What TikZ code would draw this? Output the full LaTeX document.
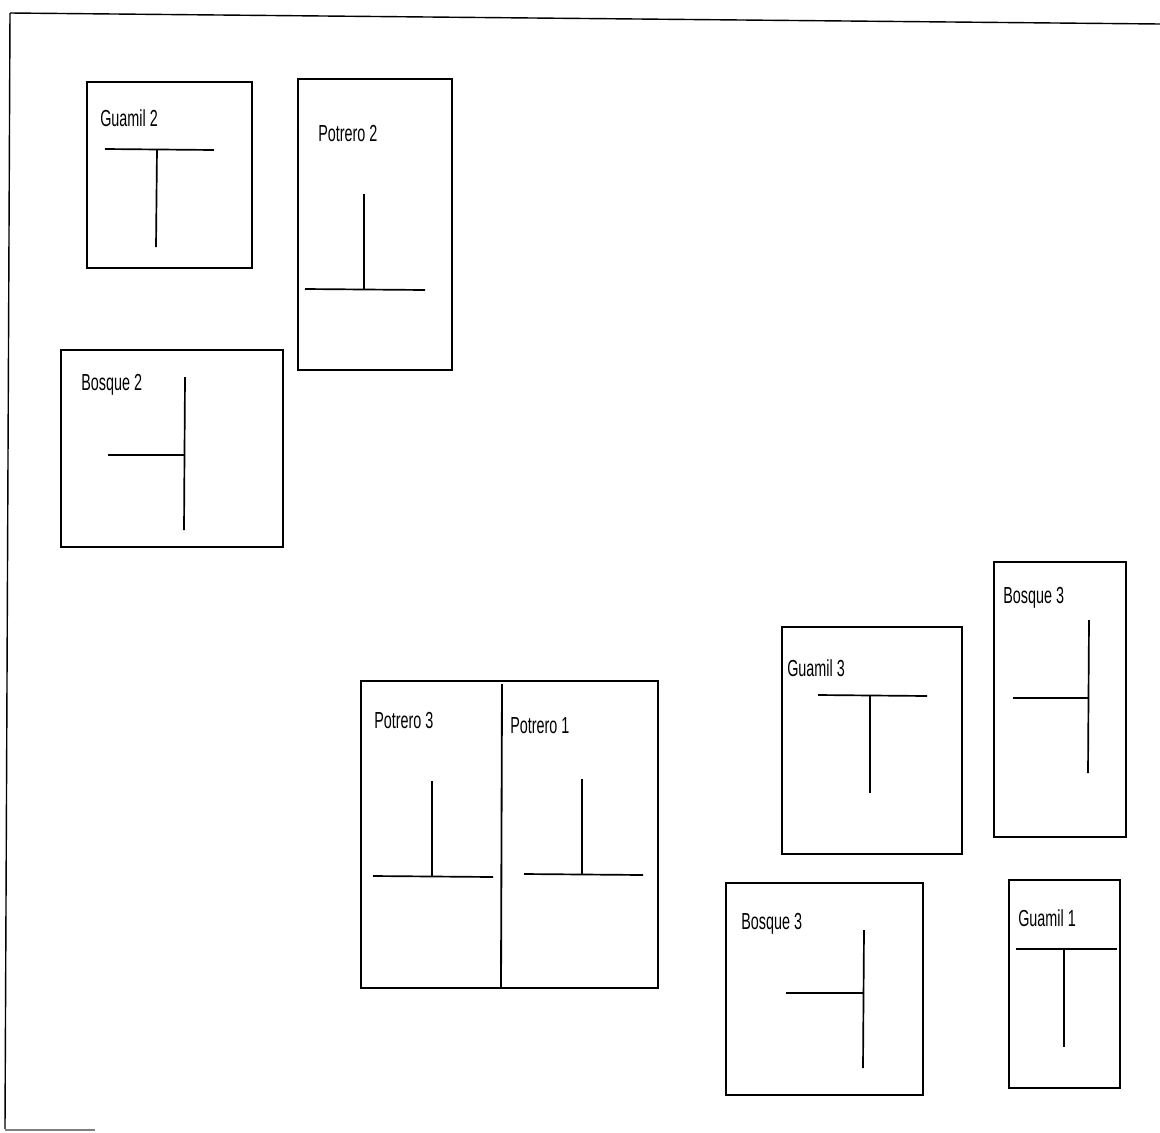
\documentclass[tikz,border=0pt]{standalone}
\usepackage{fontspec}
\setmainfont{Liberation Sans}
\begin{document}
\begin{tikzpicture}[x=0.25mm,y=-0.25mm,
  plot/.style={line width=1.3pt,draw=black},
  tee/.style={line width=1.2pt,draw=black},
  lbl/.style={anchor=west,inner sep=0pt,font=\fontsize{16.5}{16.5}\selectfont},
  frame/.style={line width=1pt,draw=black}]
\useasboundingbox (0,0) rectangle (1160,1132);
% outer frame (partial)
\draw[frame] (10,13) -- (1160,24);
\draw[frame] (10,13) -- (5,1129);
\draw[line width=1pt,draw=black!50] (5,1130) -- (95,1130);
% Guamil 2
\draw[plot] (87,82) rectangle (252,268);
\node[lbl] (g2) at (100,118) {\scalebox{0.62}[1]{Guamil 2}};
\draw[tee] (105,149) -- (214,150);
\draw[tee] (157,149) -- (156,247);
% Potrero 2
\draw[plot] (298,79) rectangle (452,370);
\node[lbl] (p2) at (318,134) {\scalebox{0.62}[1]{Potrero 2}};
\draw[tee] (364,194) -- (364,289);
\draw[tee] (305,289) -- (425,290);
% Bosque 2
\draw[plot] (61,350) rectangle (283,547);
\node[lbl] (b2) at (81,385) {\scalebox{0.62}[1]{Bosque 2}};
\draw[tee] (185,377) -- (184,530);
\draw[tee] (108,455) -- (185,455);
% Potrero 3 / Potrero 1
\draw[plot] (361,681) rectangle (658,988);
\draw[plot] (502,684) -- (501,988);
\node[lbl] (p3) at (374,721) {\scalebox{0.62}[1]{Potrero 3}};
\draw[tee] (432,781) -- (432,876);
\draw[tee] (373,876) -- (493,877);
\node[lbl] (p1) at (510,726) {\scalebox{0.62}[1]{Potrero 1}};
\draw[tee] (582,779) -- (582,874);
\draw[tee] (524,874) -- (643,875);
% Guamil 3
\draw[plot] (782,627) rectangle (962,854);
\node[lbl] (g3) at (787,668) {\scalebox{0.62}[1]{Guamil 3}};
\draw[tee] (818,695) -- (927,696);
\draw[tee] (870,696) -- (870,793);
% Bosque 3 (upper)
\draw[plot] (994,562) rectangle (1126,837);
\node[lbl] (b3a) at (1003,598) {\scalebox{0.62}[1]{Bosque 3}};
\draw[tee] (1089,620) -- (1088,773);
\draw[tee] (1013,698) -- (1089,698);
% Bosque 3 (lower)
\draw[plot] (726,883) rectangle (923,1095);
\node[lbl] (b3b) at (741,924) {\scalebox{0.62}[1]{Bosque 3}};
\draw[tee] (864,930) -- (863,1068);
\draw[tee] (786,993) -- (864,993);
% Guamil 1
\draw[plot] (1009,880) rectangle (1120,1088);
\node[lbl] (g1) at (1018,918) {\scalebox{0.62}[1]{Guamil 1}};
\draw[tee] (1016,949) -- (1117,949);
\draw[tee] (1064,949) -- (1064,1047);
\end{tikzpicture}
\end{document}
